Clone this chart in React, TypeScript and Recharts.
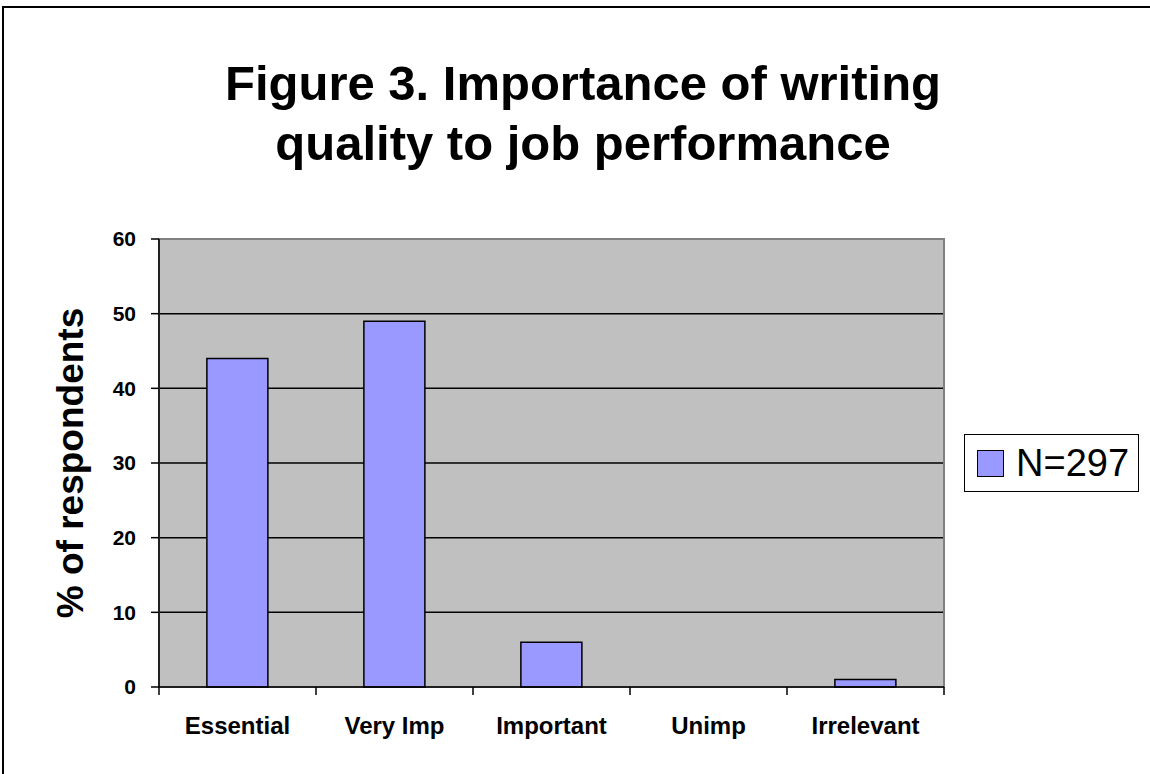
import React from 'react';
import {
  BarChart,
  Bar,
  XAxis,
  YAxis,
  CartesianGrid,
  ReferenceArea,
  Legend,
} from 'recharts';

// Survey answers and the share of respondents for each
const categories = ['Essential', 'Very Imp', 'Important', 'Unimp', 'Irrelevant'];
const percentValues = [44, 49, 6, 0, 1];
const yTicks = [0, 10, 20, 30, 40, 50, 60];
const seriesName = 'N=297';
const titleLines = ['Figure 3. Importance of writing', 'quality to job performance'];
const yAxisTitle = '% of respondents';

const data = categories.map((name, i) => ({ name, value: percentValues[i] }));

const FONT = '"Liberation Sans", Arial, Helvetica, sans-serif';

// Category labels centred under each bar, with tick marks on the category boundaries
const CategoryTick = (props: any) => {
  const { x, y, payload, index, visibleTicksCount, width } = props;
  const half =
    payload && typeof payload.offset === 'number' && payload.offset > 0
      ? payload.offset
      : width / visibleTicksCount / 2;
  const axisY = y - 8;
  return (
    <g>
      <line x1={x - half} x2={x - half} y1={axisY} y2={axisY + 8} stroke="#000" strokeWidth={1.5} />
      {index === visibleTicksCount - 1 && (
        <line x1={x + half} x2={x + half} y1={axisY} y2={axisY + 8} stroke="#000" strokeWidth={1.5} />
      )}
      <text
        x={x}
        y={axisY + 47}
        textAnchor="middle"
        fontFamily={FONT}
        fontWeight="bold"
        fontSize={24}
        fill="#000"
      >
        {payload.value}
      </text>
    </g>
  );
};

const YTitle = (props: any) => {
  const vb = props.viewBox || {};
  const cy = (vb.y ?? 0) + (vb.height ?? 0) / 2;
  const cx = 70;
  return (
    <text
      x={cx}
      y={cy}
      transform={`rotate(-90 ${cx} ${cy})`}
      textAnchor="middle"
      dominantBaseline="central"
      fontFamily={FONT}
      fontWeight="bold"
      fontSize={37}
      fill="#000"
    >
      {yAxisTitle}
    </text>
  );
};

const LegendBox = (props: any) => {
  const item = (props.payload && props.payload[0]) || { value: seriesName, color: '#9999FF' };
  return (
    <div
      style={{
        boxSizing: 'border-box',
        width: 175,
        height: 58,
        border: '1.5px solid #000',
        background: '#fff',
        display: 'flex',
        alignItems: 'center',
        paddingLeft: 12,
      }}
    >
      <span
        style={{
          display: 'inline-block',
          boxSizing: 'border-box',
          width: 27,
          height: 27,
          background: item.color,
          border: '1.5px solid #000',
          marginRight: 12,
        }}
      />
      <span style={{ fontFamily: FONT, fontSize: 38, color: '#000', lineHeight: '40px' }}>
        {item.value}
      </span>
    </div>
  );
};

export default function App() {
  return (
    <div
      style={{
        position: 'absolute',
        left: 0,
        top: 0,
        width: 1150,
        height: 774,
        overflow: 'hidden',
        background: '#fff',
      }}
    >
      {/* chart area frame */}
      <div
        style={{
          position: 'absolute',
          left: 2,
          top: 6,
          width: 1300,
          height: 900,
          border: '2px solid #000',
        }}
      />
      {titleLines.map((line, i) => (
        <div
          key={line}
          style={{
            position: 'absolute',
            left: 0,
            width: 1166,
            top: 53 + i * 60,
            height: 60,
            lineHeight: '60px',
            textAlign: 'center',
            fontFamily: FONT,
            fontWeight: 'bold',
            fontSize: 49,
            color: '#000',
            whiteSpace: 'nowrap',
          }}
        >
          {line}
        </div>
      ))}
      <div style={{ position: 'absolute', left: 0, top: 0 }}>
        <BarChart
          width={1150}
          height={774}
          data={data}
          margin={{ top: 239, right: 206, left: 99, bottom: 47 }}
          barCategoryGap="30.5%"
        >
          <CartesianGrid
            vertical={false}
            stroke="#000"
            strokeWidth={1.5}
            fill="#C0C0C0"
            fillOpacity={1}
          />
          <ReferenceArea
            y1={0}
            y2={60}
            fill="none"
            stroke="#808080"
            strokeWidth={2}
            ifOverflow="extendDomain"
          />
          <XAxis
            dataKey="name"
            height={40}
            tickLine={false}
            tickSize={8}
            tickMargin={0}
            axisLine={{ stroke: '#000', strokeWidth: 1.5 }}
            tick={<CategoryTick />}
            interval={0}
          />
          <YAxis
            width={60}
            domain={[0, 60]}
            ticks={yTicks}
            interval={0}
            tickSize={8}
            tickMargin={15}
            axisLine={{ stroke: '#000', strokeWidth: 1.5 }}
            tickLine={{ stroke: '#000', strokeWidth: 1.5 }}
            tick={{ fontFamily: FONT, fontWeight: 'bold', fontSize: 21, fill: '#000' }}
            label={<YTitle />}
          />
          <Legend
            layout="horizontal"
            verticalAlign="middle"
            align="center"
            content={<LegendBox />}
            wrapperStyle={{ left: 964, top: 434, width: 175, height: 58 }}
          />
          <Bar
            dataKey="value"
            name={seriesName}
            fill="#9999FF"
            stroke="#000"
            strokeWidth={1.5}
            isAnimationActive={false}
          />
        </BarChart>
      </div>
    </div>
  );
}
